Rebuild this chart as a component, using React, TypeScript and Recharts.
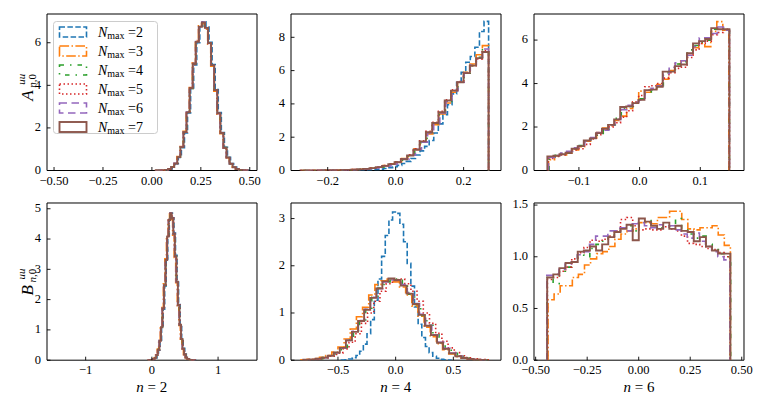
import React from 'react';
import { LineChart, Line, XAxis, YAxis, ReferenceArea, Legend } from 'recharts';

// ---------- series styling (matplotlib tab10 + line styles) ----------
const NMAX = ['2', '3', '4', '5', '6', '7'];
const COLORS = ['#1f77b4', '#ff7f0e', '#2ca02c', '#d62728', '#9467bd', '#8c564b'];
const DASHES = ['5.5 2.4', '9.6 2.4 1.5 2.4', '4.5 6 1.5 6', '1.5 2.5', '7.5 4.5', ''];
const WIDTHS = [1.6, 1.6, 1.6, 1.6, 1.6, 1.9];

// ---------- Panel A, n = 2 ----------
const A2_RANGES: [number, number][] = [
  [0.025, 0.496], [0.018, 0.489], [0.02, 0.491], [0.021, 0.492], [0.019, 0.49], [0.02, 0.491],
];
const A2_N2 = [0.001, 0.003, 0.011, 0.028, 0.068, 0.155, 0.32, 0.61, 1.07, 1.76, 2.7, 3.82, 4.96, 6.0, 6.78, 6.98, 6.74, 6.02, 4.98, 3.8, 2.72, 1.78, 1.09, 0.62, 0.33, 0.16, 0.072, 0.03, 0.011, 0.004];
const A2_N3 = [0.001, 0.004, 0.013, 0.032, 0.074, 0.165, 0.34, 0.65, 1.13, 1.84, 2.77, 3.9, 5.06, 6.1, 6.8, 6.9, 6.64, 5.93, 4.9, 3.72, 2.65, 1.73, 1.05, 0.6, 0.31, 0.15, 0.068, 0.029, 0.011, 0.004];
const A2_N4 = [0.001, 0.004, 0.012, 0.031, 0.072, 0.16, 0.33, 0.64, 1.12, 1.79, 2.75, 3.84, 5.02, 6.02, 6.74, 6.96, 6.7, 5.96, 4.93, 3.79, 2.7, 1.75, 1.08, 0.61, 0.32, 0.155, 0.07, 0.03, 0.011, 0.004];
const A2_N5 = [0.001, 0.004, 0.012, 0.03, 0.071, 0.158, 0.33, 0.62, 1.09, 1.8, 2.72, 3.87, 4.98, 6.05, 6.76, 6.93, 6.71, 6.0, 4.96, 3.77, 2.68, 1.77, 1.07, 0.61, 0.32, 0.156, 0.07, 0.03, 0.011, 0.004];
const A2_N6 = [0.001, 0.004, 0.012, 0.03, 0.07, 0.16, 0.335, 0.63, 1.1, 1.81, 2.74, 3.88, 5.03, 6.06, 6.79, 6.97, 6.69, 5.97, 4.94, 3.77, 2.68, 1.75, 1.06, 0.6, 0.32, 0.154, 0.07, 0.03, 0.011, 0.004];
const A2_N7 = [0.001, 0.004, 0.012, 0.03, 0.07, 0.16, 0.33, 0.63, 1.1, 1.8, 2.73, 3.86, 5.0, 6.04, 6.75, 6.95, 6.7, 5.99, 4.95, 3.78, 2.69, 1.76, 1.07, 0.61, 0.32, 0.155, 0.07, 0.03, 0.011, 0.004];

// ---------- Panel A, n = 4 ----------
const A4_RANGES: [number, number][] = [
  [-0.13, 0.2735], [-0.275, 0.2735], [-0.27, 0.2735], [-0.28, 0.2735], [-0.265, 0.2735], [-0.28, 0.2735],
];
const A4_N2 = [0.005, 0.008, 0.012, 0.02, 0.03, 0.05, 0.08, 0.12, 0.17, 0.23, 0.31, 0.42, 0.55, 0.72, 0.93, 1.18, 1.45, 1.8, 2.25, 2.8, 3.35, 3.95, 4.6, 5.3, 5.9, 6.5, 6.85, 7.4, 8.35, 8.96];
const A4_N3 = [0.002, 0.004, 0.006, 0.009, 0.013, 0.018, 0.026, 0.037, 0.052, 0.073, 0.105, 0.15, 0.21, 0.3, 0.4, 0.53, 0.72, 0.95, 1.3, 1.7, 2.2, 2.75, 3.4, 4.05, 4.7, 5.3, 5.9, 6.4, 6.95, 7.5];
const A4_N4 = [0.002, 0.003, 0.005, 0.008, 0.012, 0.017, 0.025, 0.036, 0.05, 0.072, 0.1, 0.145, 0.2, 0.29, 0.39, 0.52, 0.7, 0.93, 1.28, 1.72, 2.28, 2.82, 3.45, 4.15, 4.78, 5.3, 5.85, 6.3, 6.8, 7.25];
const A4_N5 = [0.002, 0.003, 0.005, 0.008, 0.011, 0.016, 0.024, 0.035, 0.05, 0.07, 0.1, 0.14, 0.2, 0.29, 0.4, 0.53, 0.71, 0.95, 1.3, 1.78, 2.35, 2.9, 3.55, 4.25, 4.85, 5.35, 5.85, 6.3, 6.7, 7.2];
const A4_N6 = [0.002, 0.003, 0.005, 0.008, 0.012, 0.017, 0.024, 0.035, 0.05, 0.07, 0.1, 0.14, 0.2, 0.28, 0.38, 0.5, 0.69, 0.92, 1.27, 1.7, 2.25, 2.8, 3.45, 4.15, 4.8, 5.3, 5.85, 6.35, 6.8, 7.3];
const A4_N7 = [0.003, 0.004, 0.006, 0.008, 0.012, 0.017, 0.024, 0.035, 0.05, 0.07, 0.1, 0.14, 0.2, 0.28, 0.38, 0.5, 0.68, 0.9, 1.25, 1.75, 2.3, 2.85, 3.5, 4.2, 4.8, 5.3, 5.85, 6.3, 6.75, 7.12];

// ---------- Panel A, n = 6 (no N_max = 2 curve) ----------
const A6_RANGES: [number, number][] = [
  [-0.15, 0.147], [-0.149, 0.148], [-0.151, 0.148], [-0.15, 0.148], [-0.152, 0.148],
];
const A6_N3 = [0.5, 0.68, 0.72, 0.8, 0.95, 1.1, 1.35, 1.5, 1.75, 1.95, 2.05, 2.3, 2.5, 2.85, 3.15, 3.65, 3.6, 3.75, 3.95, 4.2, 4.6, 4.9, 5.05, 5.3, 5.65, 5.85, 5.7, 6.4, 6.85, 6.45];
const A6_N4 = [0.62, 0.7, 0.78, 0.8, 0.98, 1.15, 1.35, 1.5, 1.7, 1.9, 2.1, 2.4, 2.85, 2.95, 3.1, 3.3, 3.55, 3.72, 3.9, 4.5, 4.6, 4.9, 5.0, 5.55, 5.75, 5.9, 6.0, 6.5, 6.55, 6.5];
const A6_N5 = [0.55, 0.65, 0.72, 0.8, 0.95, 1.0, 1.2, 1.45, 1.65, 1.9, 2.0, 2.2, 2.45, 2.75, 3.15, 3.45, 3.85, 3.9, 4.0, 4.25, 4.5, 4.7, 4.75, 5.2, 5.55, 5.85, 5.95, 6.25, 6.35, 6.5];
const A6_N6 = [0.6, 0.7, 0.8, 0.88, 1.05, 1.18, 1.35, 1.52, 1.75, 1.85, 2.1, 2.35, 2.8, 3.0, 3.15, 3.25, 3.7, 3.78, 3.9, 4.45, 4.75, 4.95, 5.05, 5.3, 5.7, 6.1, 6.1, 6.3, 6.6, 6.45];
const A6_N7 = [0.65, 0.68, 0.75, 0.82, 1.0, 1.12, 1.38, 1.48, 1.72, 1.92, 2.1, 2.35, 2.92, 2.95, 3.1, 3.25, 3.7, 3.72, 3.85, 4.55, 4.55, 4.8, 4.88, 5.4, 5.85, 5.95, 6.05, 6.55, 6.5, 6.5];

// ---------- Panel B, n = 2 ----------
const B2_RANGES: [number, number][] = [
  [-0.04, 0.66], [-0.06, 0.64], [-0.05, 0.65], [-0.045, 0.655], [-0.055, 0.645], [-0.05, 0.65],
];
const B2_N2 = [0.002, 0.005, 0.012, 0.032, 0.078, 0.168, 0.34, 0.62, 1.06, 1.68, 2.45, 3.3, 4.1, 4.66, 4.86, 4.7, 4.2, 3.46, 2.62, 1.84, 1.19, 0.71, 0.39, 0.2, 0.09, 0.04, 0.016, 0.006, 0.002, 0.001];
const B2_N3 = [0.002, 0.006, 0.014, 0.036, 0.083, 0.175, 0.36, 0.66, 1.12, 1.74, 2.52, 3.35, 4.1, 4.62, 4.83, 4.65, 4.13, 3.39, 2.56, 1.8, 1.15, 0.69, 0.37, 0.18, 0.085, 0.038, 0.015, 0.006, 0.002, 0.001];
const B2_N4 = [0.002, 0.005, 0.013, 0.034, 0.08, 0.17, 0.35, 0.65, 1.1, 1.7, 2.47, 3.3, 4.07, 4.64, 4.84, 4.67, 4.16, 3.44, 2.6, 1.81, 1.16, 0.7, 0.38, 0.19, 0.09, 0.04, 0.015, 0.006, 0.002, 0.001];
const B2_N5 = [0.002, 0.005, 0.013, 0.033, 0.079, 0.17, 0.35, 0.64, 1.08, 1.72, 2.49, 3.32, 4.09, 4.62, 4.85, 4.69, 4.18, 3.42, 2.58, 1.83, 1.18, 0.7, 0.38, 0.19, 0.09, 0.04, 0.015, 0.006, 0.002, 0.001];
const B2_N6 = [0.002, 0.005, 0.013, 0.034, 0.081, 0.172, 0.352, 0.645, 1.1, 1.71, 2.48, 3.3, 4.06, 4.63, 4.86, 4.68, 4.17, 3.43, 2.59, 1.81, 1.17, 0.7, 0.38, 0.19, 0.09, 0.04, 0.015, 0.006, 0.002, 0.001];
const B2_N7 = [0.002, 0.005, 0.013, 0.034, 0.08, 0.17, 0.35, 0.64, 1.09, 1.71, 2.48, 3.31, 4.08, 4.63, 4.85, 4.68, 4.17, 3.43, 2.59, 1.82, 1.17, 0.7, 0.38, 0.19, 0.09, 0.04, 0.015, 0.006, 0.002, 0.001];

// ---------- Panel B, n = 4 ----------
const B4_RANGES: [number, number][] = [
  [-0.47, 0.48], [-0.82, 0.78], [-0.79, 0.8], [-0.78, 0.83], [-0.8, 0.79], [-0.8, 0.78],
];
const B4_N2 = [0.004, 0.01, 0.024, 0.051, 0.1, 0.19, 0.34, 0.56, 0.86, 1.27, 1.72, 2.2, 2.64, 2.97, 3.14, 3.11, 2.88, 2.51, 2.05, 1.57, 1.13, 0.76, 0.48, 0.29, 0.16, 0.082, 0.04, 0.018, 0.008, 0.003];
const B4_N3 = [0.01, 0.02, 0.035, 0.06, 0.1, 0.17, 0.28, 0.45, 0.66, 0.92, 1.12, 1.38, 1.6, 1.68, 1.72, 1.66, 1.55, 1.38, 1.15, 0.93, 0.7, 0.5, 0.35, 0.22, 0.13, 0.075, 0.04, 0.022, 0.011, 0.005];
const B4_N4 = [0.008, 0.015, 0.03, 0.055, 0.095, 0.16, 0.27, 0.43, 0.62, 0.85, 1.1, 1.33, 1.53, 1.66, 1.72, 1.69, 1.57, 1.4, 1.18, 0.95, 0.74, 0.54, 0.37, 0.24, 0.145, 0.085, 0.047, 0.025, 0.012, 0.006];
const B4_N5 = [0.007, 0.014, 0.027, 0.05, 0.087, 0.15, 0.24, 0.38, 0.56, 0.78, 1.0, 1.25, 1.46, 1.62, 1.71, 1.72, 1.62, 1.46, 1.25, 1.0, 0.78, 0.57, 0.4, 0.26, 0.16, 0.094, 0.052, 0.027, 0.013, 0.006];
const B4_N6 = [0.008, 0.016, 0.03, 0.055, 0.095, 0.16, 0.26, 0.42, 0.61, 0.84, 1.08, 1.33, 1.52, 1.66, 1.7, 1.69, 1.6, 1.42, 1.2, 0.97, 0.74, 0.54, 0.38, 0.25, 0.15, 0.088, 0.048, 0.025, 0.012, 0.006];
const B4_N7 = [0.008, 0.016, 0.03, 0.055, 0.095, 0.16, 0.26, 0.42, 0.6, 0.83, 1.07, 1.32, 1.52, 1.67, 1.73, 1.7, 1.58, 1.41, 1.19, 0.96, 0.73, 0.53, 0.37, 0.24, 0.145, 0.085, 0.047, 0.025, 0.012, 0.006];

// ---------- Panel B, n = 6 (no N_max = 2 curve) ----------
const B6_RANGES: [number, number][] = [
  [-0.44, 0.445], [-0.445, 0.446], [-0.443, 0.444], [-0.446, 0.443], [-0.444, 0.445],
];
const B6_N3 = [0.585, 0.64, 0.72, 0.72, 0.8, 0.83, 0.92, 0.98, 1.03, 1.05, 1.1, 1.17, 1.22, 1.25, 1.27, 1.33, 1.33, 1.32, 1.38, 1.38, 1.44, 1.44, 1.36, 1.27, 1.26, 1.28, 1.28, 1.3, 1.21, 1.11];
const B6_N4 = [0.8, 0.74, 0.86, 0.9, 0.95, 1.02, 1.0, 1.08, 1.12, 1.15, 1.2, 1.24, 1.28, 1.3, 1.25, 1.33, 1.35, 1.3, 1.28, 1.3, 1.3, 1.37, 1.27, 1.22, 1.18, 1.2, 1.12, 1.07, 1.03, 1.0];
const B6_N5 = [0.78, 0.8, 0.86, 0.9, 0.98, 1.04, 1.09, 1.16, 1.15, 1.17, 1.2, 1.25, 1.36, 1.38, 1.3, 1.26, 1.27, 1.26, 1.26, 1.29, 1.27, 1.25, 1.2, 1.13, 1.12, 1.1, 1.08, 1.07, 1.04, 1.0];
const B6_N6 = [0.82, 0.83, 0.88, 0.93, 0.95, 1.02, 1.05, 1.12, 1.2, 1.2, 1.25, 1.25, 1.28, 1.25, 1.32, 1.33, 1.3, 1.28, 1.31, 1.29, 1.3, 1.26, 1.22, 1.18, 1.23, 1.15, 1.1, 1.05, 1.0, 0.97];
const B6_N7 = [0.8, 0.83, 0.89, 0.94, 0.95, 1.05, 1.06, 1.1, 1.06, 1.12, 1.19, 1.24, 1.27, 1.31, 1.16, 1.37, 1.34, 1.3, 1.27, 1.33, 1.27, 1.3, 1.25, 1.24, 1.15, 1.19, 1.1, 1.06, 1.03, 1.03];

// ---------- axes: ticks and tick labels ----------
const A2_XTICKS = [-0.5, -0.25, 0, 0.25, 0.5];
const A2_XLABELS = ['\u22120.50', '\u22120.25', '0.00', '0.25', '0.50'];
const A2_YTICKS = [0, 2, 4, 6];
const A2_YLABELS = ['0', '2', '4', '6'];
const A4_XTICKS = [-0.2, 0, 0.2];
const A4_XLABELS = ['\u22120.2', '0.0', '0.2'];
const A4_YTICKS = [0, 2, 4, 6, 8];
const A4_YLABELS = ['0', '2', '4', '6', '8'];
const A6_XTICKS = [-0.1, 0, 0.1];
const A6_XLABELS = ['\u22120.1', '0.0', '0.1'];
const A6_YTICKS = [0, 2, 4, 6];
const A6_YLABELS = ['0', '2', '4', '6'];
const B2_XTICKS = [-1, 0, 1];
const B2_XLABELS = ['\u22121', '0', '1'];
const B2_YTICKS = [0, 1, 2, 3, 4, 5];
const B2_YLABELS = ['0', '1', '2', '3', '4', '5'];
const B4_XTICKS = [-0.5, 0, 0.5];
const B4_XLABELS = ['\u22120.5', '0.0', '0.5'];
const B4_YTICKS = [0, 1, 2, 3];
const B4_YLABELS = ['0', '1', '2', '3'];
const B6_XTICKS = [-0.5, -0.25, 0, 0.25, 0.5];
const B6_XLABELS = ['\u22120.50', '\u22120.25', '0.00', '0.25', '0.50'];
const B6_YTICKS = [0, 0.5, 1, 1.5];
const B6_YLABELS = ['0.0', '0.5', '1.0', '1.5'];

const FONT = "'Liberation Serif', 'DejaVu Serif', serif";

type Pt = { x: number; y: number };
function stepPoints(range: [number, number], h: number[]): Pt[] {
  const [lo, hi] = range;
  const n = h.length;
  const w = (hi - lo) / n;
  const pts: Pt[] = [{ x: lo, y: 0 }];
  for (let i = 0; i < n; i++) {
    pts.push({ x: lo + i * w, y: h[i] });
    pts.push({ x: lo + (i + 1) * w, y: h[i] });
  }
  pts.push({ x: hi, y: 0 });
  return pts;
}

type Series = { idx: number; pts: Pt[] };
function build(idxs: number[], ranges: [number, number][], vals: number[][]): Series[] {
  return idxs.map((idx, k) => ({ idx, pts: stepPoints(ranges[k], vals[k]) }));
}

const TICK_LEN = 3.5;
const TICK_FS = 12.5;
const TXT = { fontFamily: FONT };

function XTick(props: any) {
  const { x, y, payload, ticks, labels } = props;
  const i = ticks.findIndex((t: number) => Math.abs(t - payload.value) < 1e-9);
  return (
    <g>
      <line x1={x} x2={x} y1={y} y2={y - TICK_LEN} stroke="#000" strokeWidth={0.9} />
      <text x={x} y={y + 14.2} textAnchor="middle" style={TXT} fontSize={TICK_FS} fill="#000">
        {labels[i]}
      </text>
    </g>
  );
}

function YTick(props: any) {
  const { x, y, payload, ticks, labels } = props;
  const i = ticks.findIndex((t: number) => Math.abs(t - payload.value) < 1e-9);
  return (
    <g>
      <line x1={x} x2={x + TICK_LEN} y1={y} y2={y} stroke="#000" strokeWidth={0.9} />
      <text x={x - 6} y={y + 3.4} textAnchor="end" style={TXT} fontSize={TICK_FS} fill="#000">
        {labels[i]}
      </text>
    </g>
  );
}

function LegendBox() {
  const rowH = 19;
  return (
    <svg width={110} height={120} style={{ display: 'block', overflow: 'visible' }}>
      <rect x={0.5} y={0.5} width={104} height={112} rx={3} ry={3} fill="rgba(255,255,255,0.85)" stroke="#cccccc" strokeWidth={1} />
      {NMAX.map((n, i) => {
        const cy = 11 + i * rowH;
        return (
          <g key={n}>
            <rect x={6.5} y={cy - 5} width={27} height={10} fill="none" stroke={COLORS[i]}
              strokeWidth={WIDTHS[i]} strokeDasharray={DASHES[i] || undefined} />
            <text x={45} y={cy + 4.5} style={TXT} fontSize={14} fill="#000">
              <tspan fontStyle="italic">N</tspan>
              <tspan fontSize={10} dy={2.5}>max</tspan>
              <tspan dy={-2.5}>{' =' + n}</tspan>
            </text>
          </g>
        );
      })}
    </svg>
  );
}

const YW = 40;
const XH = 30;
const MT = 9;
const MR = 18;

function Panel(p: {
  left: number; top: number; W: number; H: number;
  xDomain: [number, number]; yDomain: [number, number];
  xTicks: number[]; xLabels: string[]; yTicks: number[]; yLabels: string[];
  series: Series[]; legend?: boolean;
}) {
  const cw = YW + p.W + MR;
  const ch = MT + p.H + XH;
  const cl = p.left - YW;
  const ct = p.top - MT;
  return (
    <div style={{ position: 'absolute', left: cl, top: ct, width: cw, height: ch }}>
      <LineChart width={cw} height={ch} margin={{ top: MT, right: MR, bottom: 0, left: 0 }}>
        <XAxis type="number" dataKey="x" domain={p.xDomain} allowDataOverflow ticks={p.xTicks}
          interval={0} height={XH} tickSize={0} tickMargin={0} tickLine={false} axisLine={false}
          tick={(tp: any) => <XTick {...tp} ticks={p.xTicks} labels={p.xLabels} />} />
        <YAxis type="number" domain={p.yDomain} allowDataOverflow ticks={p.yTicks} interval={0}
          width={YW} tickSize={0} tickMargin={0} tickLine={false} axisLine={false}
          tick={(tp: any) => <YTick {...tp} ticks={p.yTicks} labels={p.yLabels} />} />
        {p.series.map((s) => (
          <Line key={NMAX[s.idx]} name={'N_max=' + NMAX[s.idx]} data={s.pts} dataKey="y" type="linear"
            stroke={COLORS[s.idx]} strokeWidth={WIDTHS[s.idx]} strokeDasharray={DASHES[s.idx] || undefined}
            dot={false} activeDot={false} isAnimationActive={false} strokeLinejoin="miter" />
        ))}
        <ReferenceArea x1={p.xDomain[0]} x2={p.xDomain[1]} y1={p.yDomain[0]} y2={p.yDomain[1]}
          fill="none" fillOpacity={0} stroke="#000" strokeWidth={1} ifOverflow="visible" />
        {p.legend && (
          <Legend layout="vertical" align="center" verticalAlign="middle" content={() => <LegendBox />}
            wrapperStyle={{ position: 'absolute', left: 53 - cl, top: 20.5 - ct, width: 110, height: 120 }} />
        )}
      </LineChart>
    </div>
  );
}

const COL_L = [46.7, 290.7, 534];
const ROW_T = [13.5, 202.8];
const PW = 210;
const PH = [156.5, 157.2];

export default function App() {
  const a2 = build([0, 1, 2, 3, 4, 5], A2_RANGES, [A2_N2, A2_N3, A2_N4, A2_N5, A2_N6, A2_N7]);
  const a4 = build([0, 1, 2, 3, 4, 5], A4_RANGES, [A4_N2, A4_N3, A4_N4, A4_N5, A4_N6, A4_N7]);
  const a6 = build([1, 2, 3, 4, 5], A6_RANGES, [A6_N3, A6_N4, A6_N5, A6_N6, A6_N7]);
  const b2 = build([0, 1, 2, 3, 4, 5], B2_RANGES, [B2_N2, B2_N3, B2_N4, B2_N5, B2_N6, B2_N7]);
  const b4 = build([0, 1, 2, 3, 4, 5], B4_RANGES, [B4_N2, B4_N3, B4_N4, B4_N5, B4_N6, B4_N7]);
  const b6 = build([1, 2, 3, 4, 5], B6_RANGES, [B6_N3, B6_N4, B6_N5, B6_N6, B6_N7]);

  const xLab = (cx: number, n: string) => (
    <text x={cx} y={392} textAnchor="middle" style={TXT} fontSize={15} fill="#000">
      <tspan fontStyle="italic">n</tspan>
      <tspan>{' = ' + n}</tspan>
    </text>
  );
  const yLab = (cy: number, letter: string) => (
    <g transform={`translate(33,${cy}) rotate(-90)`} style={TXT} fill="#000">
      <text x={-14} y={0} fontSize={17} fontStyle="italic">{letter}</text>
      <text x={2} y={-8.5} fontSize={11} fontStyle="italic">uu</text>
      <text x={-1} y={3} fontSize={11}>
        <tspan fontStyle="italic">n</tspan>
        <tspan>,0</tspan>
      </text>
    </g>
  );

  return (
    <div style={{ position: 'absolute', left: 0, top: 0, width: 764, height: 409, background: '#fff', overflow: 'hidden' }}>
      <Panel left={COL_L[0]} top={ROW_T[0]} W={PW} H={PH[0]} xDomain={[-0.536, 0.537]} yDomain={[0, 7.35]}
        xTicks={A2_XTICKS} xLabels={A2_XLABELS} yTicks={A2_YTICKS} yLabels={A2_YLABELS} series={a2} legend />
      <Panel left={COL_L[1]} top={ROW_T[0]} W={PW} H={PH[0]} xDomain={[-0.308, 0.31]} yDomain={[0, 9.4]}
        xTicks={A4_XTICKS} xLabels={A4_XLABELS} yTicks={A4_YTICKS} yLabels={A4_YLABELS} series={a4} />
      <Panel left={COL_L[2]} top={ROW_T[0]} W={PW} H={PH[0]} xDomain={[-0.174, 0.172]} yDomain={[0, 7.2]}
        xTicks={A6_XTICKS} xLabels={A6_XLABELS} yTicks={A6_YTICKS} yLabels={A6_YLABELS} series={a6} />
      <Panel left={COL_L[0]} top={ROW_T[1]} W={PW} H={PH[1]} xDomain={[-1.584, 1.588]} yDomain={[0, 5.19]}
        xTicks={B2_XTICKS} xLabels={B2_XLABELS} yTicks={B2_YTICKS} yLabels={B2_YLABELS} series={b2} />
      <Panel left={COL_L[1]} top={ROW_T[1]} W={PW} H={PH[1]} xDomain={[-0.907, 0.913]} yDomain={[0, 3.33]}
        xTicks={B4_XTICKS} xLabels={B4_XLABELS} yTicks={B4_YTICKS} yLabels={B4_YLABELS} series={b4} />
      <Panel left={COL_L[2]} top={ROW_T[1]} W={PW} H={PH[1]} xDomain={[-0.508, 0.511]} yDomain={[0, 1.52]}
        xTicks={B6_XTICKS} xLabels={B6_XLABELS} yTicks={B6_YTICKS} yLabels={B6_YLABELS} series={b6} />
      <svg width={764} height={409} style={{ position: 'absolute', left: 0, top: 0, pointerEvents: 'none' }}>
        {xLab(COL_L[0] + PW / 2, '2')}
        {xLab(COL_L[1] + PW / 2, '4')}
        {xLab(COL_L[2] + PW / 2, '6')}
        {yLab(ROW_T[0] + PH[0] / 2 - 5, 'A')}
        {yLab(ROW_T[1] + PH[1] / 2, 'B')}
      </svg>
    </div>
  );
}
